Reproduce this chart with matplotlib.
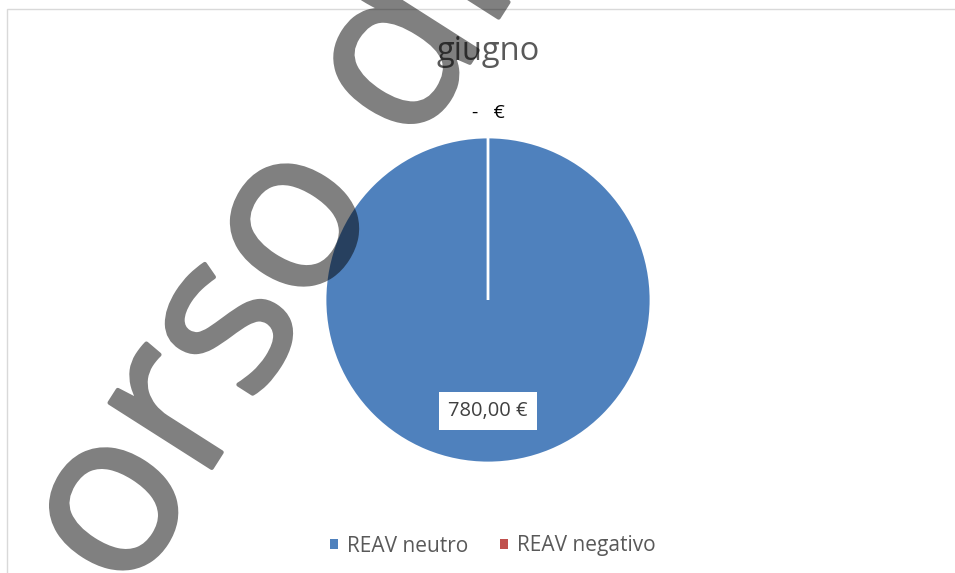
import matplotlib.pyplot as plt
import matplotlib.patheffects as pe
from matplotlib.patches import Rectangle

plt.rcParams['font.family'] = ['Open Sans', 'DejaVu Sans']

# dati del mese
mese = 'giugno'
categorie = ['REAV neutro', 'REAV negativo']
importi = [780.0, 0.0]
colori = ['#4F81BD', '#C0504D']


def euro(v):
    # formato contabilità: zero mostrato come trattino
    if v == 0:
        return '-   €'
    s = f'{v:,.2f}'.replace(',', 'X').replace('.', ',').replace('X', '.')
    return f'{s} €'


def mezza_trasparenza(img, dpi):
    # trasparenza applicata all'intero testo, tratto compreso
    img = img.copy()
    img[..., 3] *= 0.5
    return img, 0, 0


fig = plt.figure(figsize=(9.55, 5.73), dpi=100)
fig.patch.set_facecolor('white')

# bordo dell'area grafico
fig.patches.append(Rectangle((7 / 955, -0.1), 1.2, 1 - 9 / 573 + 0.1,
                             transform=fig.transFigure, fill=False,
                             edgecolor='#D9D9D9', linewidth=1.0, zorder=0))

ax = fig.add_axes([(488 - 163) / 955, (573 - 463) / 573, 326 / 955, 326 / 573])
wedges, texts = ax.pie(importi, colors=colori, startangle=90, counterclock=False,
                       labels=[euro(v) for v in importi], labeldistance=1.0,
                       wedgeprops=dict(edgecolor='white', linewidth=2.0),
                       textprops=dict(color='#404040', fontsize=14.5))
ax.set_aspect('equal')
ax.set_xlim(-1, 1)
ax.set_ylim(-1, 1)

# posizioni delle etichette
texts[0].set_position((0, -0.68))
texts[0].set_ha('center')
texts[0].set_va('center')
texts[0].set_bbox(dict(facecolor='white', edgecolor='none',
                       boxstyle='square,pad=0.45'))
texts[1].set_position((0, 1.15))
texts[1].set_ha('center')
texts[1].set_va('center')
texts[1].set_color('#000000')
texts[1].set_fontsize(14)

fig.text(488 / 955, 1 - 52 / 573, mese, ha='center', va='center',
         fontsize=23.5, color='#595959')

handles = [Rectangle((0, 0), 1, 1, facecolor=c) for c in colori]
fig.legend(handles, categorie, loc='center', bbox_to_anchor=(493 / 955, 1 - 546 / 573),
           ncol=2, frameon=False, fontsize=15, handlelength=0.38, handleheight=0.38,
           handletextpad=0.43, columnspacing=1.54, labelcolor='#595959')

# filigrana
wm = fig.text(0.287, 0.545, 'orso di', rotation=57.5, ha='center', va='center',
              fontsize=163, color='black', rotation_mode='anchor',
              path_effects=[pe.withStroke(linewidth=3, foreground='black')])
wm.set_agg_filter(mezza_trasparenza)

fig.savefig('out.png', dpi=100)
